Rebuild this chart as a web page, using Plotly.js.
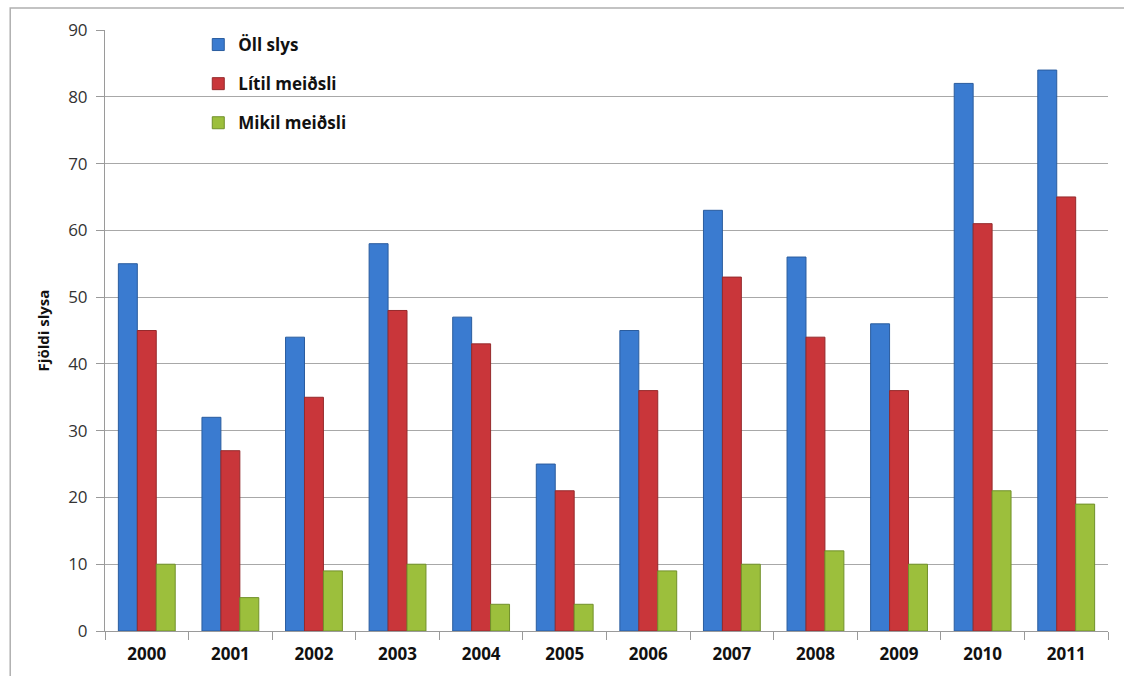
<!DOCTYPE html>
<html><head><meta charset="utf-8">
<script src="https://cdn.plot.ly/plotly-3.0.1.min.js"></script>
<style>html,body{margin:0;padding:0;background:#fff}#chart{width:1124px;height:676px}</style>
</head><body><div id="chart"></div>
<script>
const years = ['2000','2001','2002','2003','2004','2005','2006','2007','2008','2009','2010','2011'];
const ollSlys = [55,32,44,58,47,25,45,63,56,46,82,84];
const litilMeidsli = [45,27,35,48,43,21,36,53,44,36,61,65];
const mikilMeidsli = [10,5,9,10,4,4,9,10,12,10,21,19];
const seriesNames = ['Öll slys','Lítil meiðsli','Mikil meiðsli'];

const colors = ['#3a7bd0','#c9363a','#9cbf3c'];
const lines = ['#2a5c9e','#952a2c','#71902a'];
const vals = [ollSlys, litilMeidsli, mikilMeidsli];

const data = vals.map((v,i)=>({
  type:'bar', x:years, y:v, name:seriesNames[i], legendgroup:'g'+i,
  marker:{color:colors[i], line:{color:lines[i], width:1}}
}));

const layout = {
  width:1124, height:676,
  margin:{l:105,r:16,t:30,b:45},
  paper_bgcolor:'#fff', plot_bgcolor:'#fff',
  barmode:'group', bargap:0.32, bargroupgap:0,
  font:{family:'"Open Sans", "Liberation Sans", sans-serif', color:'#222'},
  xaxis:{type:'category', showgrid:false, showline:true, linecolor:'#9a9a9a', linewidth:1,
    ticks:'outside', tickson:'boundaries', ticklen:8, tickcolor:'#9a9a9a', ticklabelstandoff:8,
    tickfont:{size:17, color:'#111', family:'"Open Sans", sans-serif', weight:'bold'}},
  yaxis:{range:[0,90], dtick:10, showgrid:true, gridcolor:'#a8a8a8', gridwidth:1,
    showline:true, linecolor:'#9a9a9a', ticks:'outside', ticklen:8, tickcolor:'#9a9a9a',
    ticklabelstandoff:5,
    zeroline:false, tickfont:{size:17, color:'#333', family:'"Open Sans", sans-serif'},
    title:{text:'Fjöldi slysa', font:{size:15, color:'#111', family:'"Open Sans", sans-serif', weight:'bold'}, standoff:14}},
  legend:{x:0.093, y:1.005, xanchor:'left', yanchor:'top', bgcolor:'rgba(0,0,0,0)',
    font:{size:17, color:'#111', family:'"Open Sans", sans-serif', weight:'bold'},
    tracegroupgap:14, itemwidth:30, traceorder:'grouped'},
  shapes:[{type:'rect', xref:'paper', yref:'paper', x0:-0.0945, x1:1.05, y0:-0.12, y1:1.0366,
    line:{color:'#b0b0b0', width:1.5}, fillcolor:'rgba(0,0,0,0)', layer:'below'}]
};
Plotly.newPlot('chart', data, layout, {displayModeBar:false, staticPlot:true});
</script></body></html>
